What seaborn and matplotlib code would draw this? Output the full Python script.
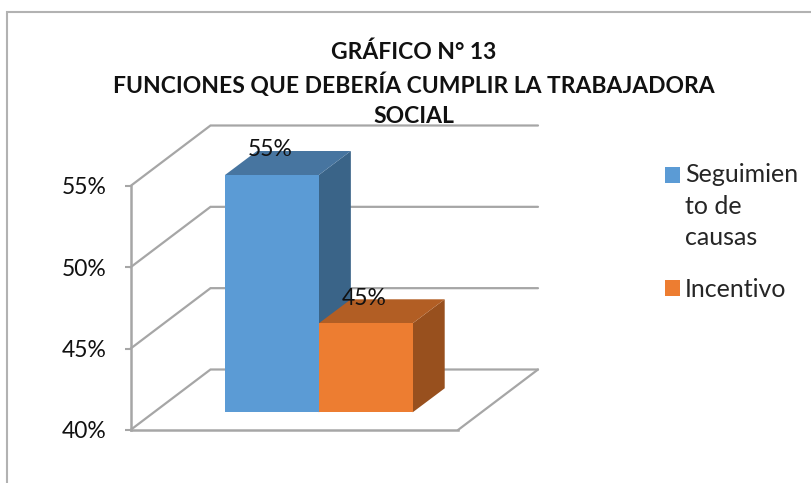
import pandas as pd
import seaborn as sns
import matplotlib.pyplot as plt
from matplotlib.patches import Polygon, Rectangle

# data
series = ["Seguimien\nto de\ncausas", "Incentivo"]
values = [55, 45]
ticks = [40, 45, 50, 55]
title = "GRÁFICO N° 13\nFUNCIONES QUE DEBERÍA CUMPLIR LA TRABAJADORA\nSOCIAL"
front_cols = ["#5B9BD5", "#ED7D31"]
top_cols = ["#4775A0", "#B25E24"]
side_cols = ["#3A6488", "#98501E"]

W, H = 811, 483
grid_col = "#A6A6A6"

sns.set_theme(style="white")
plt.rcParams["font.family"] = ["Lato", "DejaVu Sans"]


def px_axes(fig, x0, x1, ytop, ybot):
    return fig.add_axes([x0 / W, 1 - ybot / H, (x1 - x0) / W, (ybot - ytop) / H])


fig = plt.figure(figsize=(W / 100, H / 100), dpi=100)

# chart border, only left and top are inside the picture
fig.add_artist(Rectangle((6.5 / W, -0.1), 1.1, 1.1 - 12 / H,
                         transform=fig.transFigure, fill=False, ec="#B2B2B2", lw=1.5))

# frame with the value axis
ax = px_axes(fig, 130.5, 458, 186, 430)
ax.set_xlim(0, 1)
ax.set_ylim(40, 55)
ax.set_yticks(ticks)
ax.set_yticklabels(["{}%".format(t) for t in ticks], fontsize=16.5, color="#111111")
ax.set_xticks([])
ax.tick_params(axis="y", left=True, length=4.5, width=1.5, color=grid_col, pad=13)
for s in ["top", "right"]:
    ax.spines[s].set_visible(False)
for s in ["left", "bottom"]:
    ax.spines[s].set_color(grid_col)
    ax.spines[s].set_linewidth(1.8)

# depth of the wall, in frame units
wall_dx = 80 / 327.5
wall_dy = 60.5 / (244 / 15)
for t in ticks:
    ax.plot([0, wall_dx, 1 + wall_dx], [t, t + wall_dy, t + wall_dy],
            color=grid_col, lw=1.6, clip_on=False, solid_joinstyle="miter")
ax.plot([1, 1 + wall_dx], [40, 40 + wall_dy], color=grid_col, lw=1.6, clip_on=False)

# bars, on their own plane in front of the wall
bx = px_axes(fig, 225, 412.7, 120, 412.3)
df = pd.DataFrame({"cat": ["a", "a"], "serie": series, "valor": values})
sns.barplot(data=df, x="cat", y="valor", hue="serie", hue_order=series,
            palette=front_cols, saturation=1, gap=0, width=0.8, linewidth=0, ax=bx, legend=False)
bx.set_xlim(-0.4, 0.4)
px_unit = (323.3 - 175) / (values[0] - values[1])
bx.set_ylim(45 - (412.3 - 323.3) / px_unit, 45 + (323.3 - 120) / px_unit)
bx.axis("off")
bx.patch.set_alpha(0)

depth_x = 32 * 0.8 / 187.7
depth_y = 24 / px_unit
base = bx.get_ylim()[0]
bars = sorted(bx.patches, key=lambda b: b.get_x())
for i, b in enumerate(bars):
    x0, x1, top = b.get_x(), b.get_x() + b.get_width(), b.get_height()
    b.set_zorder(3)
    bx.add_patch(Polygon([(x1, base), (x1 + depth_x, base + depth_y),
                          (x1 + depth_x, top + depth_y), (x1, top)],
                         fc=side_cols[i], ec="none", clip_on=False, zorder=1 + i))
    bx.add_patch(Polygon([(x0, top), (x0 + depth_x, top + depth_y),
                          (x1 + depth_x, top + depth_y), (x1, top)],
                         fc=top_cols[i], ec="none", clip_on=False, zorder=1 + i))
    bx.annotate("{}%".format(values[i]), (x0 + b.get_width() / 2, top), xytext=(-1, 18),
                textcoords="offset points", ha="center", va="center",
                fontsize=16.5, color="#111111", zorder=5, annotation_clip=False)

fig.text(414 / W, 1 - 84 / H, title, ha="center", va="center", fontsize=16.5,
         fontweight="bold", color="#111111", linespacing=1.49)

# legend, swatch sits at the first line of a wrapped label
handles = [Rectangle((0, 0), 1, 1, fc=c, lw=0) for c in front_cols]
leg = fig.legend(handles, series, loc="upper left", bbox_to_anchor=(665 / W, 1 - 163 / H),
                 frameon=False, fontsize=18, handlelength=0.6, handleheight=0.6,
                 handletextpad=0.2, labelspacing=1.14, borderpad=0, borderaxespad=0)
for t in leg.get_texts():
    t.set_linespacing(1.45)
leg.legend_handles[0].set_y(leg.legend_handles[0].get_y() + 23)

fig.savefig("out.png", dpi=100)
